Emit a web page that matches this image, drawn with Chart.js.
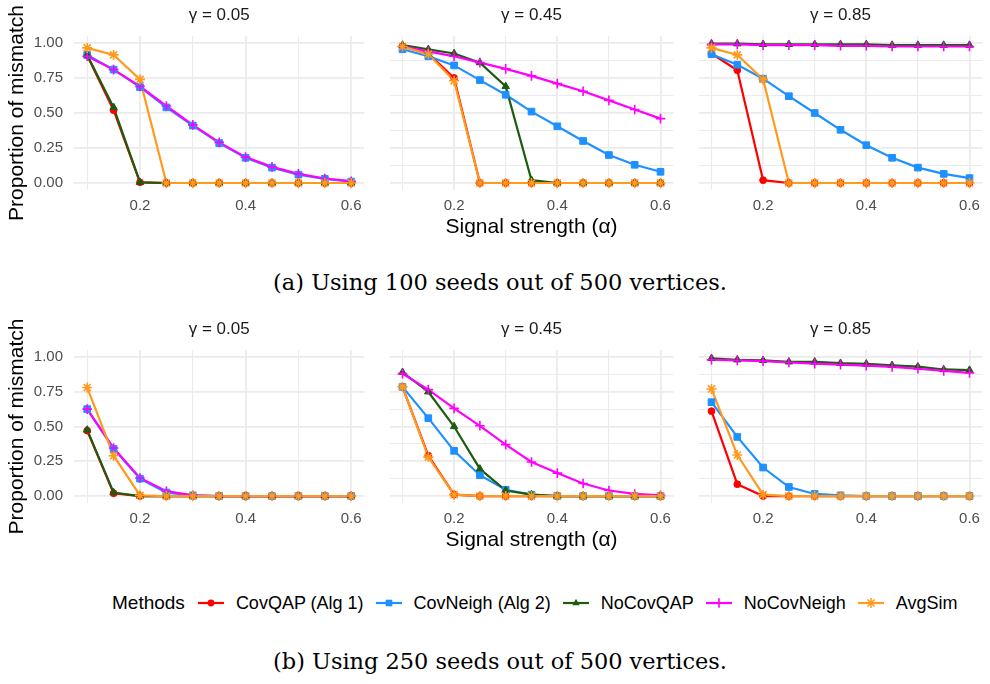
<!DOCTYPE html>
<html>
<head>
<meta charset="utf-8">
<script src="https://cdn.jsdelivr.net/npm/chart.js@4.4.1/dist/chart.umd.min.js"></script>
<style>
  body { margin: 0; background: #fff; }
  #wrap { position: relative; width: 990px; height: 684px; overflow: hidden; background: #fff;
          font-family: 'Liberation Sans', Arial, sans-serif; }
  .holder { position: absolute; }
  .cap { position: absolute; left: 0; width: 1000px; text-align: center; line-height: 28px;
         font-family: 'DejaVu Serif', serif; color: #000; white-space: nowrap; }
  .cap span { font-size: 20px; }
  #legend { position: absolute; left: 112px; top: 590px; height: 26px; display: flex; align-items: center;
            white-space: nowrap; color: #000; }
  #legend .ttl { font-size: 19px; margin-right: 13px; }
  #legend svg { margin-right: 12px; }
  #legend .lab { font-size: 18px; margin-right: 12px; }
</style>
</head>
<body>
<div id="wrap">
  <div class="cap" style="top:268px"><span>(a) Using 100 seeds out of 500 vertices.</span></div>
  <div class="cap" style="top:647px"><span>(b) Using 250 seeds out of 500 vertices.</span></div>
  <div id="legend"><span class="ttl">Methods</span></div>
</div>
<script>
const alpha = [0.1, 0.15, 0.2, 0.25, 0.3, 0.35, 0.4, 0.45, 0.5, 0.55, 0.6];
const gammas = ['0.05', '0.45', '0.85'];
const methods = ['CovQAP (Alg 1)', 'CovNeigh (Alg 2)', 'NoCovQAP', 'NoCovNeigh', 'AvgSim'];
const xTicks = [0.1, 0.2, 0.3, 0.4, 0.5, 0.6];
const yTicks = [0, 0.125, 0.25, 0.375, 0.5, 0.625, 0.75, 0.875, 1];

// 100 seeds, one row per gamma (0.05, 0.45, 0.85)
const covQAP100 = [
  [0.91, 0.52, 0.005, 0, 0, 0, 0, 0, 0, 0, 0],
  [0.975, 0.925, 0.75, 0, 0, 0, 0, 0, 0, 0, 0],
  [0.925, 0.805, 0.02, 0, 0, 0, 0, 0, 0, 0, 0]
];
const covNeigh100 = [
  [0.915, 0.81, 0.685, 0.54, 0.41, 0.285, 0.18, 0.11, 0.06, 0.03, 0.01],
  [0.955, 0.905, 0.84, 0.735, 0.63, 0.51, 0.405, 0.3, 0.2, 0.13, 0.08],
  [0.92, 0.845, 0.745, 0.62, 0.5, 0.38, 0.27, 0.18, 0.11, 0.065, 0.035]
];
const noCovQAP100 = [
  [0.915, 0.54, 0.005, 0, 0, 0, 0, 0, 0, 0, 0],
  [0.985, 0.955, 0.925, 0.86, 0.69, 0.02, 0, 0, 0, 0, 0],
  [0.995, 0.995, 0.99, 0.99, 0.99, 0.99, 0.99, 0.985, 0.985, 0.985, 0.985]
];
const noCovNeigh100 = [
  [0.905, 0.81, 0.69, 0.55, 0.415, 0.29, 0.185, 0.115, 0.065, 0.032, 0.013],
  [0.975, 0.94, 0.905, 0.86, 0.815, 0.765, 0.71, 0.655, 0.59, 0.525, 0.46],
  [0.99, 0.99, 0.985, 0.985, 0.985, 0.98, 0.98, 0.975, 0.975, 0.975, 0.975]
];
const avgSim100 = [
  [0.965, 0.915, 0.74, 0, 0, 0, 0, 0, 0, 0, 0],
  [0.975, 0.92, 0.73, 0, 0, 0, 0, 0, 0, 0, 0],
  [0.965, 0.915, 0.74, 0, 0, 0, 0, 0, 0, 0, 0]
];

// 250 seeds
const covQAP250 = [
  [0.47, 0.02, 0, 0, 0, 0, 0, 0, 0, 0, 0],
  [0.785, 0.29, 0.01, 0, 0, 0, 0, 0, 0, 0, 0],
  [0.61, 0.085, 0, 0, 0, 0, 0, 0, 0, 0, 0]
];
const covNeigh250 = [
  [0.625, 0.34, 0.125, 0.025, 0.005, 0, 0, 0, 0, 0, 0],
  [0.785, 0.56, 0.325, 0.15, 0.045, 0.01, 0, 0, 0, 0, 0],
  [0.675, 0.425, 0.205, 0.065, 0.015, 0.005, 0, 0, 0, 0, 0]
];
const noCovQAP250 = [
  [0.475, 0.025, 0, 0, 0, 0, 0, 0, 0, 0, 0],
  [0.89, 0.75, 0.5, 0.195, 0.04, 0.01, 0, 0, 0, 0, 0],
  [0.99, 0.98, 0.975, 0.965, 0.965, 0.955, 0.95, 0.94, 0.93, 0.91, 0.905]
];
const noCovNeigh250 = [
  [0.625, 0.345, 0.13, 0.035, 0.005, 0, 0, 0, 0, 0, 0],
  [0.88, 0.765, 0.63, 0.505, 0.37, 0.245, 0.165, 0.09, 0.04, 0.015, 0.005],
  [0.98, 0.975, 0.97, 0.96, 0.952, 0.945, 0.938, 0.928, 0.915, 0.9, 0.885]
];
const avgSim250 = [
  [0.78, 0.29, 0.005, 0, 0, 0, 0, 0, 0, 0, 0],
  [0.785, 0.28, 0.01, 0, 0, 0, 0, 0, 0, 0, 0],
  [0.77, 0.295, 0.01, 0, 0, 0, 0, 0, 0, 0, 0]
];

const colors = ['#FF0000', '#1E90FF', '#1D5C0F', '#FF00FF', '#FF9A1F'];
const shapes = ['circle', 'rect', 'triangle', 'cross', 'star'];
const radii = [3.4, 4.7, 4.3, 4.8, 5];

const rows = [
  { top: 36, h: 154, series: [covQAP100, covNeigh100, noCovQAP100, noCovNeigh100, avgSim100] },
  { top: 350, h: 153, series: [covQAP250, covNeigh250, noCovQAP250, noCovNeigh250, avgSim250] }
];
const cols = [{ left: 0, yw: 74 }, { left: 383, yw: 0 }, { left: 692, yw: 0 }];
const plotW = 297, titleH = 36, axisH = 56;

Chart.defaults.font.family = "'Liberation Sans', Arial, sans-serif";

const wrap = document.getElementById('wrap');

rows.forEach((row, r) => {
  cols.forEach((col, c) => {
    const holder = document.createElement('div');
    holder.className = 'holder';
    holder.style.left = col.left + 'px';
    holder.style.top = (row.top - titleH) + 'px';
    holder.style.width = (col.yw + plotW) + 'px';
    holder.style.height = (titleH + row.h + axisH) + 'px';
    const cv = document.createElement('canvas');
    holder.appendChild(cv);
    wrap.appendChild(holder);

    const datasets = [];
    methods.forEach((m, k) => {
      const pts = alpha.map((a, i) => ({ x: a, y: row.series[k][c][i] }));
      // lines under all the points, as in the original
      datasets.push({ label: m, data: pts, borderColor: colors[k], borderWidth: 2.2,
                      pointRadius: 0, order: 20 - k, clip: false });
      datasets.push({ label: m, data: pts, showLine: false, pointStyle: shapes[k],
                      pointRadius: radii[k], pointBackgroundColor: colors[k],
                      pointBorderColor: colors[k], pointBorderWidth: k >= 3 ? 1.6 : 1,
                      order: 10 - k, clip: false });
    });

    new Chart(cv, {
      type: 'line',
      data: { datasets },
      options: {
        responsive: true,
        maintainAspectRatio: false,
        animation: false,
        events: [],
        layout: { padding: 0 },
        plugins: {
          legend: { display: false },
          tooltip: { enabled: false },
          title: {
            display: true, text: 'γ = ' + gammas[c], fullSize: false,
            color: '#1A1A1A', font: { size: 17, weight: 'normal' },
            padding: { top: 5, bottom: 10.6 }
          }
        },
        scales: {
          x: {
            type: 'linear', min: 0.075, max: 0.625,
            afterBuildTicks: s => { s.ticks = xTicks.map(v => ({ value: v })); },
            afterFit: s => { s.height = axisH; },
            grid: { color: '#EBEBEB', drawTicks: false,
                    lineWidth: ctx => (Math.round(ctx.tick.value * 10) % 2 === 0 ? 1.8 : 1.1) },
            border: { display: false },
            ticks: { color: '#4D4D4D', font: { size: 15 }, padding: 7, maxRotation: 0, autoSkip: false,
                     callback: v => (Math.round(v * 10) % 2 === 0 ? v.toFixed(1) : '') },
            title: { display: c === 1, text: 'Signal strength (α)', color: '#000',
                     font: { size: 21 }, padding: { top: 0, bottom: 6 } }
          },
          y: {
            min: -0.05, max: 1.05,
            afterBuildTicks: s => { s.ticks = yTicks.map(v => ({ value: v })); },
            afterFit: s => { s.width = col.yw; },
            grid: { color: '#EBEBEB', drawTicks: false,
                    lineWidth: ctx => (Math.round(ctx.tick.value * 8) % 2 === 0 ? 1.8 : 1.1) },
            border: { display: false },
            ticks: { display: c === 0, color: '#4D4D4D', font: { size: 15 }, padding: 11,
                     callback: v => (Math.round(v * 8) % 2 === 0 ? v.toFixed(2) : '') },
            title: { display: c === 0, text: 'Proportion of mismatch', color: '#000',
                     font: { size: 21 }, padding: { top: 5, bottom: 0 } }
          }
        }
      }
    });
  });
});

// shared legend
function keySvg(k) {
  const col = colors[k];
  let mark = '';
  if (k === 0) mark = `<circle cx="13" cy="8" r="3.4" fill="${col}"/>`;
  if (k === 1) mark = `<rect x="9.7" y="4.7" width="6.6" height="6.6" fill="${col}"/>`;
  if (k === 2) mark = `<polygon points="13,3.7 16.7,10.2 9.3,10.2" fill="${col}"/>`;
  if (k === 3) mark = `<path d="M13 3.2V12.8M8.2 8H17.8" stroke="${col}" stroke-width="1.6"/>`;
  if (k === 4) mark = `<path d="M13 3V13M8 8H18M9.5 4.5L16.5 11.5M16.5 4.5L9.5 11.5" stroke="${col}" stroke-width="1.5"/>`;
  return `<svg width="26" height="16"><line x1="0" y1="8" x2="26" y2="8" stroke="${col}" stroke-width="2.2"/>${mark}</svg>`;
}
const legend = document.getElementById('legend');
methods.forEach((m, k) => {
  legend.insertAdjacentHTML('beforeend', keySvg(k) + `<span class="lab">${m}</span>`);
});

// captions: fit to the width they take in the original
document.querySelectorAll('.cap span').forEach(s => {
  const w = s.getBoundingClientRect().width;
  s.style.fontSize = (20 * 454 / w).toFixed(2) + 'px';
});
</script>
</body>
</html>
